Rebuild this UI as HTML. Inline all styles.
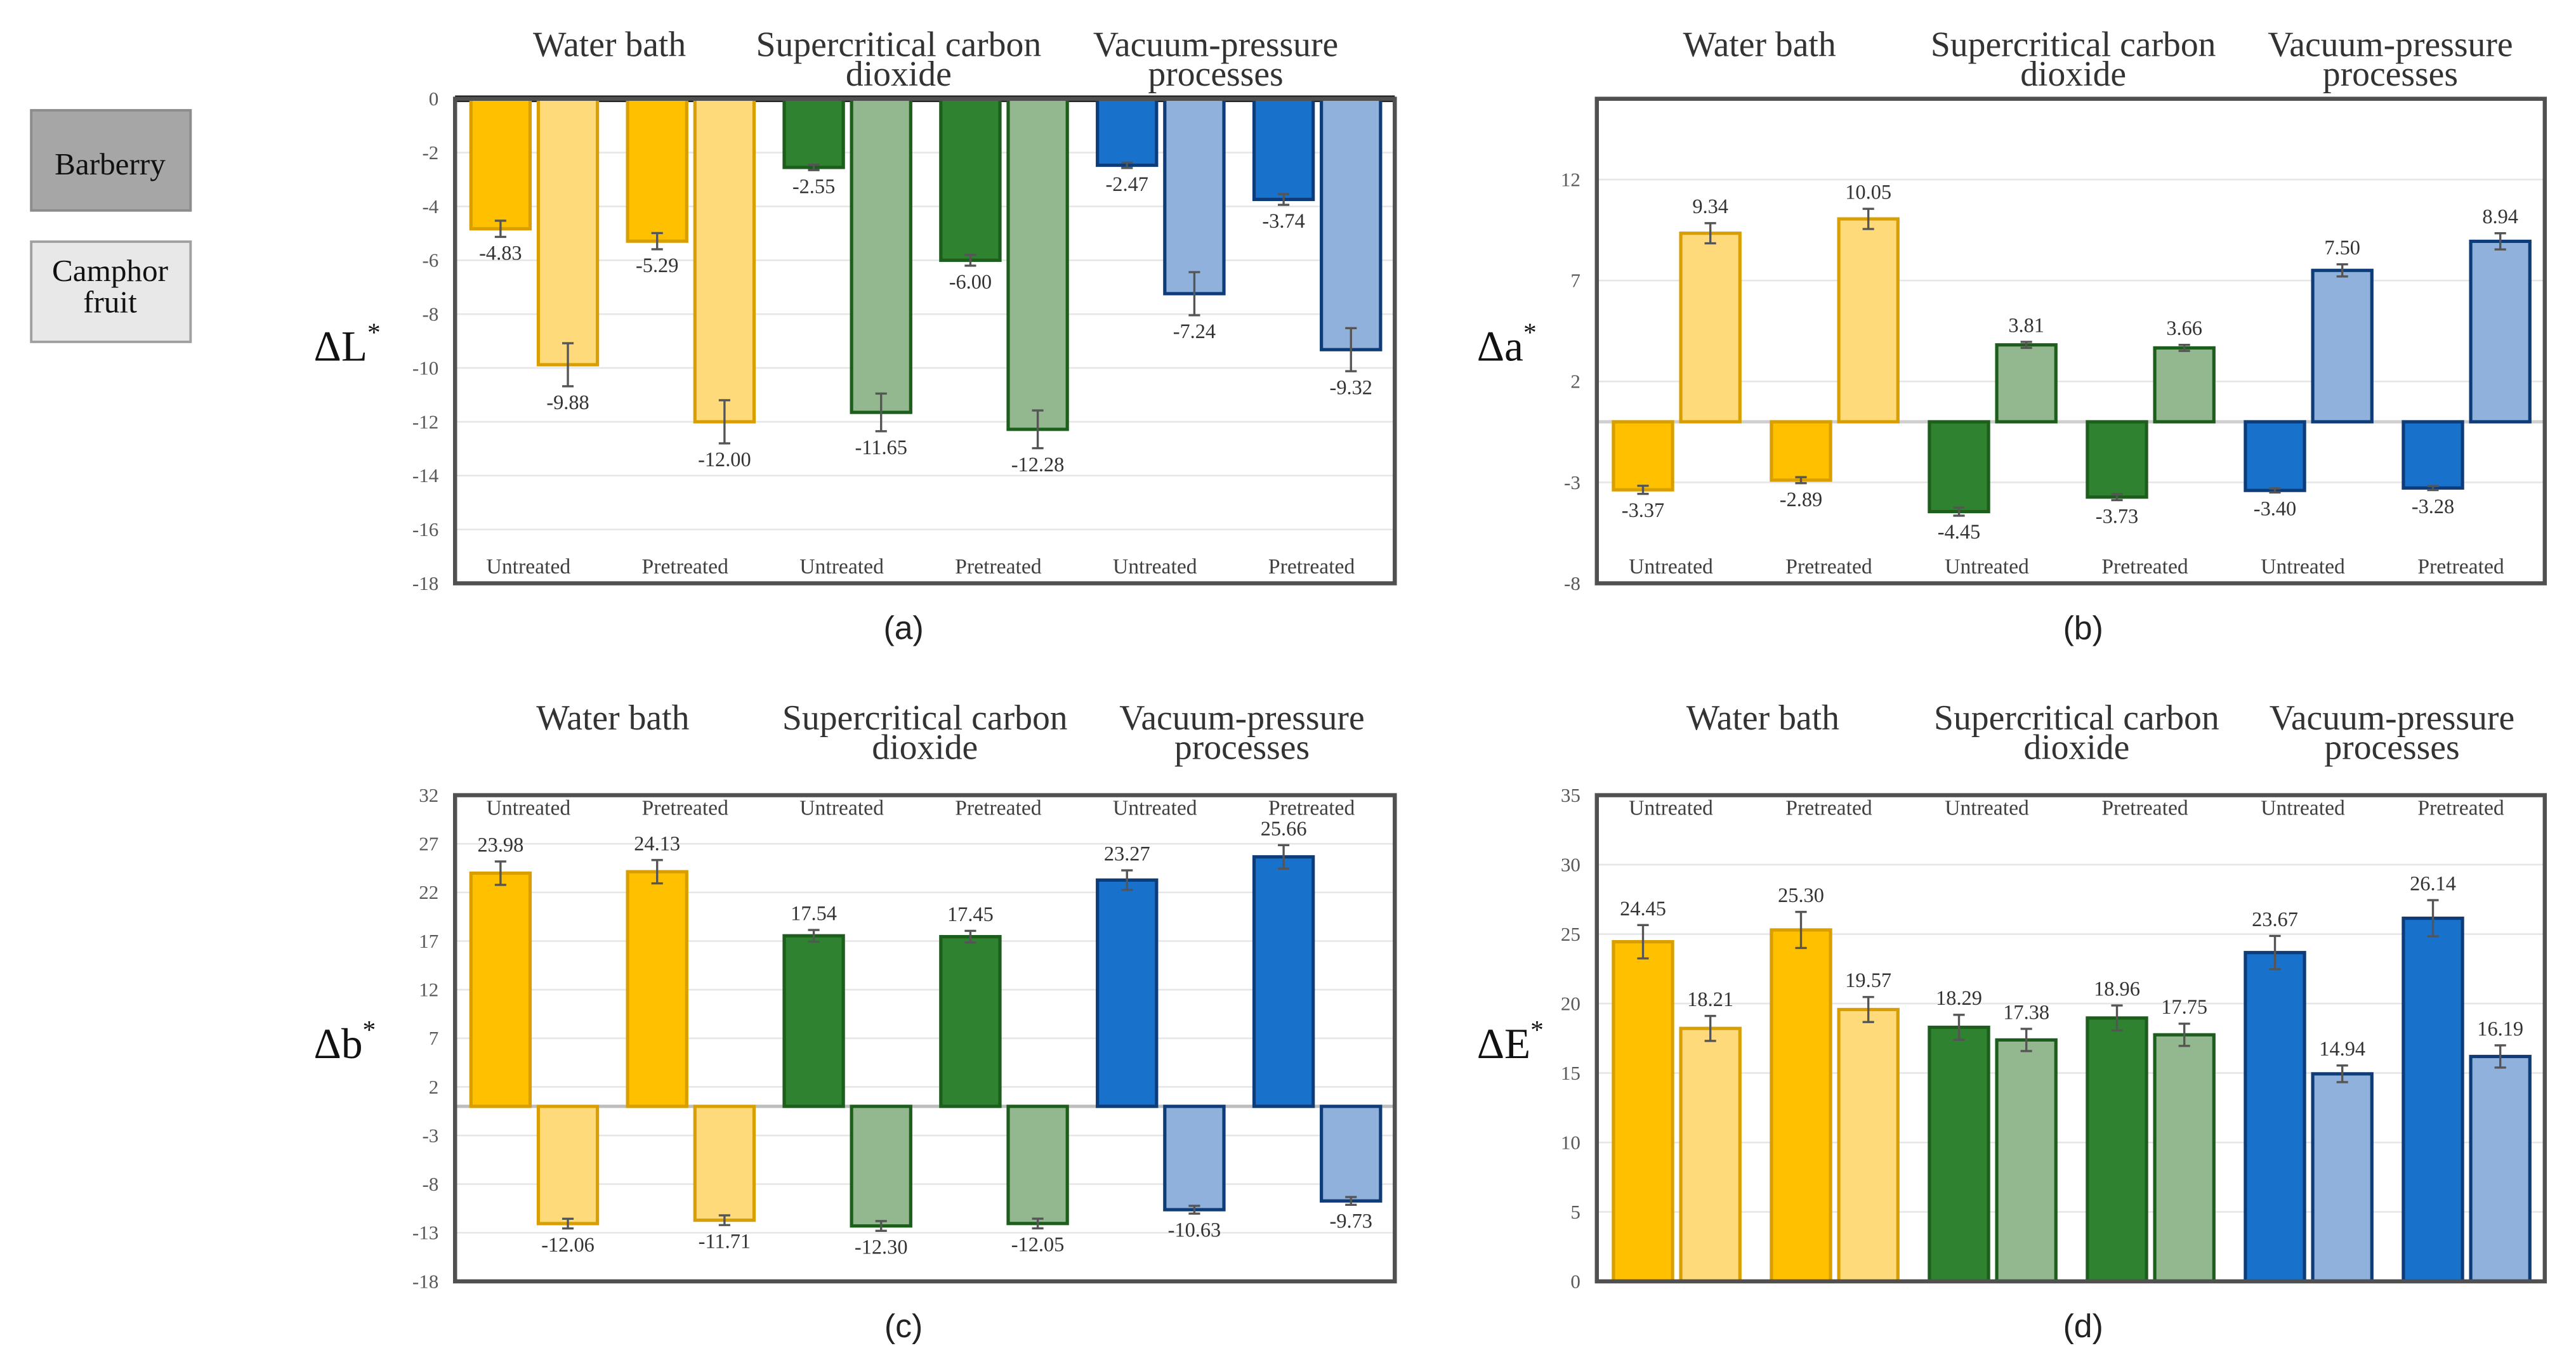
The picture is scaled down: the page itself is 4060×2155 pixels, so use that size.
<!DOCTYPE html>
<html><head><meta charset="utf-8">
<style>
html,body{margin:0;padding:0;background:#fff;}
svg{display:block;}
text{font-family:"Liberation Serif",serif;}
text.sans{font-family:"Liberation Sans",sans-serif;}
</style></head>
<body>
<svg id="fig" width="4060" height="2155" viewBox="0 0 1568 832" xmlns="http://www.w3.org/2000/svg">
<rect x="0" y="0" width="1568" height="832" fill="#fff"/>
<g>
  <rect x="19" y="67" width="97" height="61" fill="#a6a6a6" stroke="#8c8c8c" stroke-width="1.5"/>
  <text x="67" y="106" text-anchor="middle" font-size="19" fill="#111">Barberry</text>
  <rect x="19" y="147" width="97" height="61" fill="#e8e8e8" stroke="#a0a0a0" stroke-width="1.5"/>
  <text x="67" y="171" text-anchor="middle" font-size="19" fill="#111">Camphor</text>
  <text x="67" y="190" text-anchor="middle" font-size="19" fill="#111">fruit</text>
</g>
</svg>
<script>
// ---- data ----
const categories = ["Untreated","Pretreated","Untreated","Pretreated","Untreated","Pretreated"];
const groupNames = ["Water bath","Supercritical carbon dioxide","Vacuum-pressure processes"];
const aBarberry = [-4.83,-5.29,-2.55,-6.00,-2.47,-3.74];
const aCamphor  = [-9.88,-12.00,-11.65,-12.28,-7.24,-9.32];
const aBarErr   = [0.3,0.3,0.1,0.2,0.1,0.2];
const aCamErr   = [0.8,0.8,0.7,0.7,0.8,0.8];
const aTicks    = [0,-2,-4,-6,-8,-10,-12,-14,-16,-18];
const bBarberry = [-3.37,-2.89,-4.45,-3.73,-3.40,-3.28];
const bCamphor  = [9.34,10.05,3.81,3.66,7.50,8.94];
const bBarErr   = [0.2,0.15,0.2,0.15,0.1,0.1];
const bCamErr   = [0.5,0.5,0.15,0.15,0.3,0.4];
const bTicks    = [12,7,2,-3,-8];
const cBarberry = [23.98,24.13,17.54,17.45,23.27,25.66];
const cCamphor  = [-12.06,-11.71,-12.30,-12.05,-10.63,-9.73];
const cBarErr   = [1.2,1.2,0.6,0.6,1.0,1.2];
const cCamErr   = [0.5,0.5,0.5,0.5,0.4,0.4];
const cTicks    = [32,27,22,17,12,7,2,-3,-8,-13,-18];
const dBarberry = [24.45,25.30,18.29,18.96,23.67,26.14];
const dCamphor  = [18.21,19.57,17.38,17.75,14.94,16.19];
const dBarErr   = [1.2,1.3,0.9,0.9,1.2,1.3];
const dCamErr   = [0.9,0.9,0.8,0.8,0.6,0.8];
const dTicks    = [0,5,10,15,20,25,30,35];

const NS="http://www.w3.org/2000/svg";
const svg=document.getElementById('fig');
const solidFill=["#FFC000","#FFC000","#2E8230","#2E8230","#1871CB","#1871CB"];
const solidStroke=["#D99E00","#D99E00","#1D5E1D","#1D5E1D","#0E3C78","#0E3C78"];
const lightFill=["#FFDA7A","#FFDA7A","#93B88F","#93B88F","#8FB1DC","#8FB1DC"];
const lightStroke=["#D99E00","#D99E00","#1D5E1D","#1D5E1D","#0E3C78","#0E3C78"];

function mk(tag,attrs,parent){const e=document.createElementNS(NS,tag);for(const k in attrs)e.setAttribute(k,attrs[k]);(parent||svg).appendChild(e);return e;}
function txt(s,attrs,parent){const e=mk('text',attrs,parent);e.textContent=s;return e;}

function panel(cfg){
  const g=mk('g',{});
  
  
  const {x0,x1,top,bottom,min,max}=cfg;
  const y=v=>top+(max-v)/(max-min)*(bottom-top);
  const cw=(x1-x0)/6;
  const cx=i=>x0+cw*(i+0.5);
  cfg.ticks.forEach(t=>{
    const gl=mk('line',{x1:x0,x2:x1,y1:y(t),y2:y(t),stroke:'#e6e6e6','stroke-width':1},g);
    
    
    const tl=txt(String(t),{x:x0-10,y:y(t)+4,'text-anchor':'end','font-size':12,fill:'#595959'},g);
    
    
  });
  const zl=mk('line',{x1:x0,x2:x1,y1:y(0),y2:y(0),stroke:cfg.zeroColor,'stroke-width':cfg.zeroW},g);
  
  
  const series=[[cfg.bar,cfg.barErr,-38,solidFill,solidStroke,'barberry'],[cfg.cam,cfg.camErr,3,lightFill,lightStroke,'camphor']];
  series.forEach(([vals,errs,off,fills,strokes,nm])=>{
    vals.forEach((v,i)=>{
      const bx=cx(i)+off, w=36;
      const yt=Math.min(y(v),y(0)), h=Math.abs(y(v)-y(0));
      const r=mk('rect',{x:bx,y:yt,width:w,height:h,fill:fills[i],stroke:strokes[i],'stroke-width':2},g);
      
      
      const ex=bx+w/2, e=errs[i];
      const ya=y(v+e), yb=y(v-e);
      const eb=mk('path',{d:`M${ex} ${ya}V${yb}M${ex-3.5} ${ya}H${ex+3.5}M${ex-3.5} ${yb}H${ex+3.5}`,stroke:'#555','stroke-width':1.3,fill:'none'},g);
      
      
      const ly = v>=0 ? Math.min(ya,yb)-6 : Math.max(ya,yb)+14;
      const lab=txt(v.toFixed(2),{x:ex,y:ly,'text-anchor':'middle','font-size':12.5,fill:'#333'},g);
      
      
    });
  });
  categories.forEach((c,i)=>{
    const t=txt(c,{x:cx(i)-3,y:cfg.catY,'text-anchor':'middle','font-size':13,fill:'#404040'},g);
    
    
  });
  const fr=mk('rect',{x:x0,y:top,width:x1-x0,height:bottom-top,fill:'none',stroke:'#505050','stroke-width':2.5},g);
  
  
  const hx=cfg.headX, fs=21.5;
  const h1=txt('Water bath',{x:hx[0],y:cfg.headY,'text-anchor':'middle','font-size':fs,fill:'#333'},g);
  
  
  const h2=txt('Supercritical carbon',{x:hx[1],y:cfg.headY,'text-anchor':'middle','font-size':fs,fill:'#333'},g);
  
  
  txt('dioxide',{x:hx[1],y:cfg.headY+18,'text-anchor':'middle','font-size':fs,fill:'#333'},g);
  const h3=txt('Vacuum-pressure',{x:hx[2],y:cfg.headY,'text-anchor':'middle','font-size':fs,fill:'#333'},g);
  
  
  txt('processes',{x:hx[2],y:cfg.headY+18,'text-anchor':'middle','font-size':fs,fill:'#333'},g);
  const yt=mk('text',{x:cfg.ytX,y:(top+bottom)/2+12,'font-size':26,fill:'#111'},g);
  
  
  yt.textContent='Δ'+cfg.ylab;
  const sup=mk('tspan',{dy:-12,'font-size':16},yt);sup.textContent='*';
  const pl=txt('('+cfg.id+')',{x:cfg.letterX,y:bottom+34,'text-anchor':'middle','font-size':20,fill:'#222','class':'sans'},g);
  
  
}

panel({id:'a',x0:277,x1:849,top:60,bottom:355,min:-18,max:0,ticks:aTicks,bar:aBarberry,cam:aCamphor,barErr:aBarErr,camErr:aCamErr,catY:349,headX:[371,547,740],headY:34,ylab:'L',ytX:191,zeroColor:'#1a1a1a',zeroW:4,letterX:550});
panel({id:'b',x0:972,x1:1549,top:60,bottom:355,min:-8,max:16,ticks:bTicks,bar:bBarberry,cam:bCamphor,barErr:bBarErr,camErr:bCamErr,catY:349,headX:[1071,1262,1455],headY:34,ylab:'a',ytX:899,zeroColor:'#cfcfcf',zeroW:2,letterX:1268});
panel({id:'c',x0:277,x1:849,top:484,bottom:780,min:-18,max:32,ticks:cTicks,bar:cBarberry,cam:cCamphor,barErr:cBarErr,camErr:cCamErr,catY:496,headX:[373,563,756],headY:444,ylab:'b',ytX:191,zeroColor:'#bdbdbd',zeroW:2,letterX:550});
panel({id:'d',x0:972,x1:1549,top:484,bottom:780,min:0,max:35,ticks:dTicks,bar:dBarberry,cam:dCamphor,barErr:dBarErr,camErr:dCamErr,catY:496,headX:[1073,1264,1456],headY:444,ylab:'E',ytX:899,zeroColor:'#505050',zeroW:2,letterX:1268});
</script>
</body></html>
